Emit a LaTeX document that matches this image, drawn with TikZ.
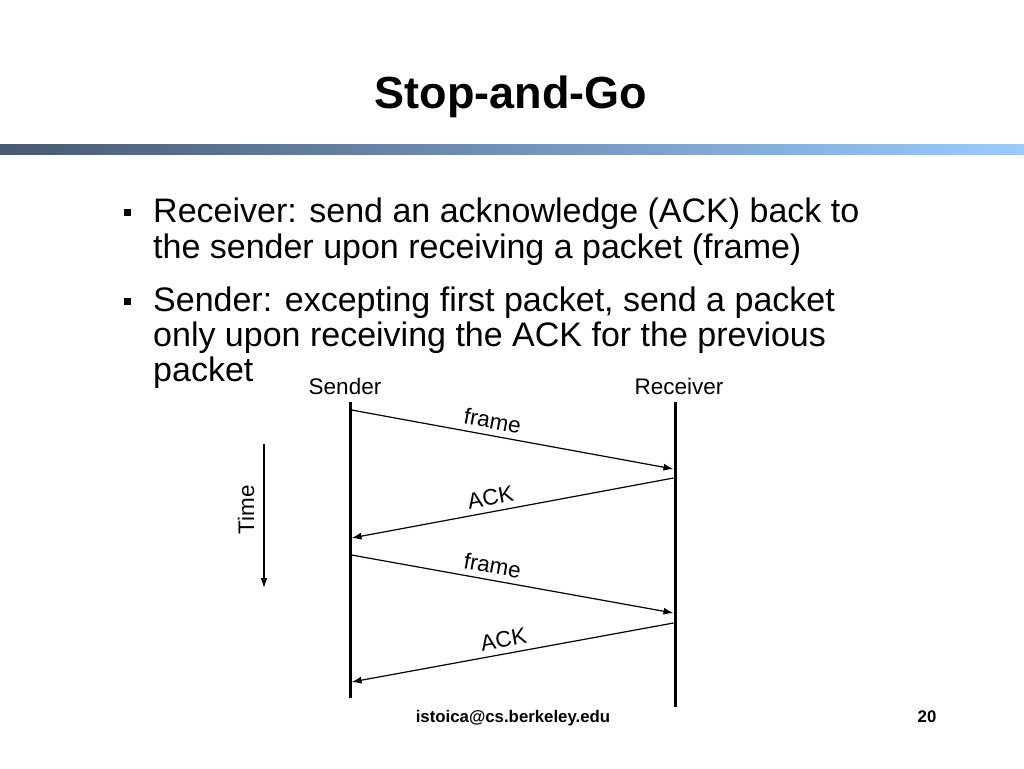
\documentclass[tikz,border=0pt]{standalone}
\usepackage{fontspec}
\setmainfont{Liberation Sans}
\usetikzlibrary{arrows.meta}
\definecolor{barL}{RGB}{72,90,115}
\definecolor{barM}{RGB}{120,160,210}
\definecolor{barR}{RGB}{153,204,255}
\tikzset{
  lifeline/.style={line width=3pt},
  msg/.style={line width=1.2pt,-{Latex[length=10pt,width=7pt]}},
  msglabel/.style={sloped,above=5pt,inner sep=1pt,font=\fontsize{22.5}{26}\selectfont},
  difont/.style={font=\fontsize{22.5}{26}\selectfont,inner sep=0pt},
  bullettext/.style={anchor=base west,inner sep=0pt,font=\fontsize{34}{38}\selectfont},
  bulletmark/.style={fill=black,minimum size=7pt,inner sep=0pt}
}
\begin{document}
\begin{tikzpicture}[x=1pt,y=-1pt]
\useasboundingbox (0,0) rectangle (1024,768);
\fill[white] (0,0) rectangle (1024,768);
% title
\node[anchor=base,inner sep=0pt,font=\fontsize{45}{50}\selectfont\bfseries] (title) at (511,108) {Stop-and-Go};
\shade[left color=barL,middle color=barM,right color=barR] (0,144) rectangle (1024,154);
% bullets
\node[bulletmark] (b1) at (127.5,212.5) {};
\node[bullettext] (t1a) at (153,222) {Receiver: send an acknowledge (ACK) back to};
\node[bullettext] (t1b) at (153,258) {the sender upon receiving a packet (frame)};
\node[bulletmark] (b2) at (127.5,301.5) {};
\node[bullettext] (t2a) at (153,311) {Sender: excepting first packet, send a packet};
\node[bullettext] (t2b) at (153,346) {only upon receiving the ACK for the previous};
\node[bullettext] (t2c) at (153,381) {packet};
% participants
\node[difont] (snd) at (345,386) {Sender};
\node[difont] (rcv) at (679,386) {Receiver};
\coordinate (s0) at (350,402);
\coordinate (s1) at (350,698);
\coordinate (r0) at (675,402);
\coordinate (r1) at (675,707);
\draw[lifeline] (s0) -- (s1);
\draw[lifeline] (r0) -- (r1);
% message endpoints
\coordinate (sa) at (351.5,410);
\coordinate (ra) at (673.5,469);
\coordinate (rb) at (673.5,478);
\coordinate (sb) at (351.5,538);
\coordinate (sc) at (351.5,555);
\coordinate (rc) at (673.5,613);
\coordinate (rd) at (673.5,623);
\coordinate (sd) at (351.5,682);
\draw[msg] (sa) -- node[msglabel,pos=0.43] {frame} (ra);
\draw[msg] (rb) -- node[msglabel,pos=0.56] {ACK} (sb);
\draw[msg] (sc) -- node[msglabel,pos=0.43] {frame} (rc);
\draw[msg] (rd) -- node[msglabel,pos=0.52] {ACK} (sd);
% time axis
\node[difont,rotate=90] (time) at (246,510) {Time};
\coordinate (ta) at (264,444);
\coordinate (tb) at (264,588);
\draw[msg] (ta) -- (tb);
% footer
\node[anchor=base,inner sep=0pt,font=\fontsize{16.8}{20}\selectfont\bfseries] (foot) at (513,722) {istoica@cs.berkeley.edu};
\node[anchor=base,inner sep=0pt,font=\fontsize{16.8}{20}\selectfont\bfseries] (page) at (927,722) {20};
\end{tikzpicture}
\end{document}
